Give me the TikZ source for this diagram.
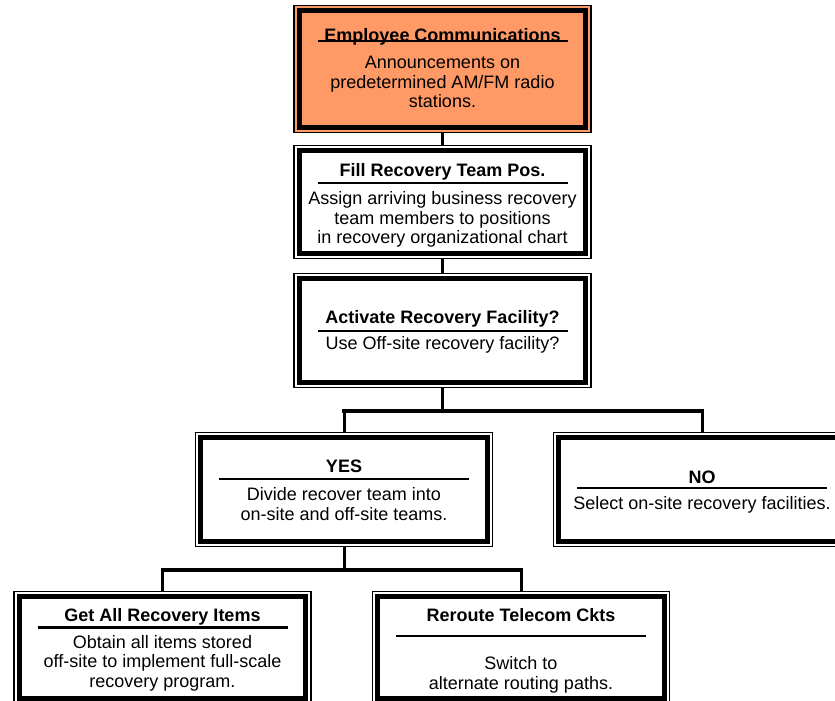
\documentclass[tikz,border=0pt]{standalone}
\usepackage{fontspec}
\setmainfont{Liberation Sans}
\usepackage{tikz}
\usetikzlibrary{positioning}

\definecolor{empfill}{RGB}{255,153,102}
\newcommand{\boxfont}{\fontsize{18}{19.6}\selectfont}

\tikzset{
  recbox/.style={draw=black, line width=1.3pt, inner sep=0pt,
    minimum width=297pt, minimum height=#1,
    path picture={\draw[line width=5.3pt]
      ([shift={(5.2pt,5.2pt)}]path picture bounding box.south west) rectangle
      ([shift={(-5.2pt,-5.2pt)}]path picture bounding box.north east);}},
  recbox/.default=114pt,
  headtxt/.style={anchor=base, inner sep=0pt, font=\boxfont\bfseries},
  bodytxt/.style={anchor=north, inner sep=0pt, align=center, font=\boxfont},
  headrule/.style={line width=2.2pt},
  link/.style={line width=3pt},
  busbar/.style={line width=4pt, line cap=rect}
}

\begin{document}
\begin{tikzpicture}[x=1pt, y=-1pt]

\useasboundingbox (0,0) rectangle (835,701);
\clip (0,0) rectangle (835,701);

% Employee communications (top)
\node[recbox=127pt, fill=empfill] (emp) at (442.5,69) {};
\node[headtxt] (emp-h) at (442.5,42) {Employee Communications};
\node[bodytxt] (emp-b) at (442.5,56) {Announcements on\\predetermined AM/FM radio\\stations.};

% Fill recovery team positions
\node[recbox=113pt] (fill) at (442.5,202) {};
\node[headtxt] (fill-h) at (442.5,176.5) {Fill Recovery Team Pos.};
\node[bodytxt] (fill-b) at (442.5,191.5) {Assign arriving business recovery\\team members to positions\\in recovery organizational chart};

% Decision: activate recovery facility
\node[recbox] (act) at (442.5,330.5) {};
\node[headtxt] (act-h) at (442.5,323.7) {Activate Recovery Facility?};
\node[bodytxt] (act-b) at (442.5,336.7) {Use Off-site recovery facility?};

% YES / NO branches
\node[recbox] (yes) at (344,489.5) {};
\node[headtxt] (yes-h) at (344,472.7) {YES};
\node[bodytxt] (yes-b) at (344,487.3) {Divide recover team into\\on-site and off-site teams.};

\node[recbox] (no) at (702,489.5) {};
\node[headtxt] (no-h) at (702,483) {NO};
\node[bodytxt] (no-b) at (702,496.7) {Select on-site recovery facilities.};

% Bottom row
\node[recbox=112pt] (get) at (162.5,647.5) {};
\node[headtxt] (get-h) at (162.5,621) {Get All Recovery Items};
\node[bodytxt] (get-b) at (162.5,635) {Obtain all items stored\\off-site to implement full-scale\\recovery program.};

\node[recbox=112pt] (rer) at (521,647.5) {};
\node[headtxt] (rer-h) at (521,621.7) {Reroute Telecom Ckts};
\node[bodytxt] (rer-b) at (521,656.5) {Switch to\\alternate routing paths.};

% Rules under the box titles
\foreach \cx/\ry in {442.5/41, 442.5/183, 442.5/330.7, 344/479, 702/487.7, 162.5/627.5, 521/636}
{
  \draw[headrule] ({\cx-125},\ry) -- ({\cx+125},\ry);
}

% Connectors
\coordinate (split1) at (442.5,411);
\coordinate (split2) at (344,569.5);

\draw[link] (emp.south) -- (fill.north);
\draw[link] (fill.south) -- (act.north);
\draw[link] (act.south) -- (split1);
\draw[busbar] (yes.north |- split1) -- (no.north |- split1);
\draw[link] (yes.north |- split1) -- (yes.north);
\draw[link] (no.north |- split1) -- (no.north);

\draw[link] (yes.south) -- (split2);
\draw[busbar] (get.north |- split2) -- (rer.north |- split2);
\draw[link] (get.north |- split2) -- (get.north);
\draw[link] (rer.north |- split2) -- (rer.north);

\end{tikzpicture}
\end{document}
